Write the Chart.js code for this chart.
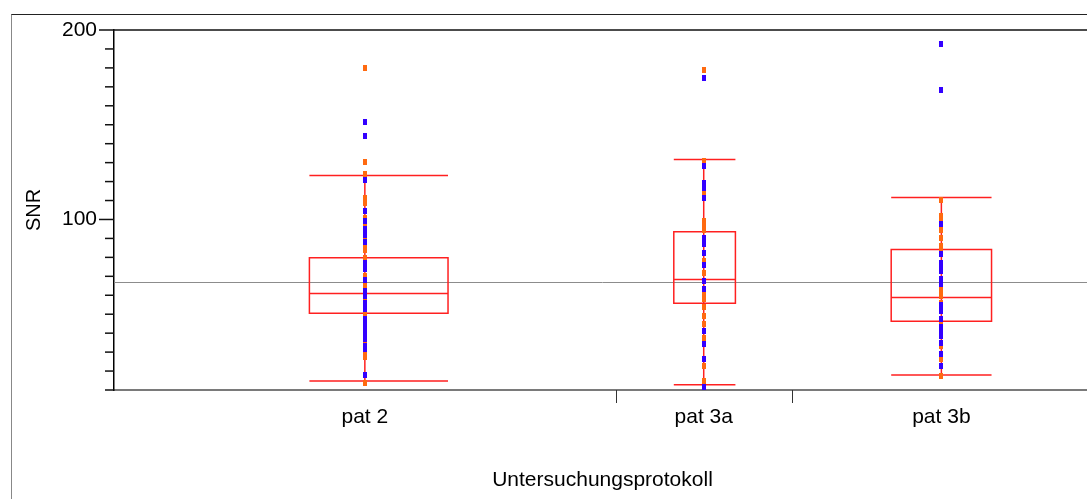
<!DOCTYPE html>
<html>
<head>
<meta charset="utf-8">
<script src="https://cdn.jsdelivr.net/npm/chart.js@4.4.1/dist/chart.umd.min.js"></script>
<style>
  html, body { margin: 0; padding: 0; background: #fff; overflow: hidden; }
  #frame { position: absolute; left: 11px; top: 14px; width: 1200px; height: 600px;
           border-top: 1px solid #222; border-left: 1px solid #888; }
  #wrap { position: absolute; left: 0; top: 0; width: 1100px; height: 499px; }
</style>
</head>
<body>
<div id="frame"></div>
<div id="wrap"><canvas id="snrChart" width="1100" height="499"></canvas></div>
<script>
// SNR je Untersuchungsprotokoll: Einzelwerte + Boxplot
const categories = ['pat 2', 'pat 3a', 'pat 3b'];
const groupSizes = [57, 20, 34];   // Spaltenbreite proportional zu n

const pat2Blue   = [151.6, 143.8, 120.7, 104.4, 99.1, 95, 91.6, 88, 77.2, 73.7, 68, 62, 59.6, 56.1, 53, 47.7, 44.7, 42.1, 40, 39.5, 36.8, 33, 31.6, 17.9];
const pat2Orange = [180, 143.8, 130.5, 124.2, 111.4, 108.8, 101, 96.5, 93, 89.5, 86, 83.8, 79.8, 75, 70.2, 65.3, 63.2, 58, 53.5, 50.5, 45, 35.1, 29.8, 27.2, 13.7];
const pat3aBlue   = [174.7, 128, 119.3, 116.7, 111.4, 90, 86.8, 82.5, 76, 67.5, 63.2, 41.2, 34.2, 26.3, 11.4];
const pat3aOrange = [179, 130.7, 113.2, 99.1, 98.2, 96.5, 94.7, 88, 78, 72, 61, 57.9, 54, 49.1, 45, 37.7, 22.8, 14.9];
const pat3bBlue   = [192.6, 168.4, 97.4, 81.6, 77.2, 75, 72.8, 68.4, 66, 55, 51.7, 47.4, 43, 40, 38.6, 35, 28.9, 22.8];
const pat3bOrange = [110.5, 101.7, 99, 94.7, 90.4, 86, 84, 64, 62, 59.6, 56.1, 46.5, 33.3, 26.3, 17.5];

const boxQ1     = [50.5, 55.8, 46.3];
const boxMedian = [60.9, 68.3, 58.8];
const boxQ3     = [79.8, 93.5, 84.1];
const whiskerLo = [14.7, 12.8, 17.9];
const whiskerHi = [123.2, 131.6, 111.6];
const grandMean = 67.2;

const yTicks = [100, 200];

// Spaltengrenzen und -mitten auf der x-Achse
const bounds = [0];
groupSizes.forEach(n => bounds.push(bounds[bounds.length - 1] + n));
const centers = groupSizes.map((n, i) => bounds[i] + n / 2);
const total = bounds[bounds.length - 1];

// Boxbreite relativ zur Spaltenmitte
const boxSpan = [[-6.3, 9.45], [-3.4, 3.6], [-5.7, 5.7]];

function makeDot(color) {
  const c = document.createElement('canvas');
  c.width = 4; c.height = 6;
  const g = c.getContext('2d');
  g.fillStyle = color;
  g.fillRect(0, 0, 4, 6);
  return c;
}
const blueDot = makeDot('#3300ff');
const orangeDot = makeDot('#ff6a10');

const toPoints = (vals, i) => vals.map(v => ({ x: centers[i], y: v }));

const boxPlugin = {
  id: 'boxes',
  beforeDatasetsDraw(chart) {
    const { ctx, chartArea: a, scales: { x, y } } = chart;
    ctx.save();
    ctx.strokeStyle = '#8c8c8c';
    ctx.lineWidth = 1;
    const ym = Math.round(y.getPixelForValue(grandMean)) + 0.5;
    ctx.beginPath(); ctx.moveTo(a.left, ym); ctx.lineTo(a.right, ym); ctx.stroke();

    ctx.strokeStyle = '#ff2020';
    ctx.lineWidth = 1.5;
    categories.forEach((c, i) => {
      const cx = x.getPixelForValue(centers[i]);
      const x0 = x.getPixelForValue(centers[i] + boxSpan[i][0]);
      const x1 = x.getPixelForValue(centers[i] + boxSpan[i][1]);
      const yq1 = y.getPixelForValue(boxQ1[i]);
      const yq3 = y.getPixelForValue(boxQ3[i]);
      const ymd = y.getPixelForValue(boxMedian[i]);
      const ylo = y.getPixelForValue(whiskerLo[i]);
      const yhi = y.getPixelForValue(whiskerHi[i]);
      ctx.beginPath();
      ctx.rect(x0, yq3, x1 - x0, yq1 - yq3);
      ctx.moveTo(x0, ymd); ctx.lineTo(x1, ymd);
      ctx.moveTo(x0, ylo); ctx.lineTo(x1, ylo);
      ctx.moveTo(x0, yhi); ctx.lineTo(x1, yhi);
      ctx.moveTo(cx, yhi); ctx.lineTo(cx, ylo);
      ctx.stroke();
    });
    ctx.restore();
  },
  afterDraw(chart) {
    const { ctx, chartArea: a, scales: { x, y } } = chart;
    ctx.save();
    // Rahmenlinie oben
    ctx.strokeStyle = '#111';
    ctx.lineWidth = 1.5;
    ctx.beginPath(); ctx.moveTo(a.left, a.top); ctx.lineTo(a.right + 20, a.top); ctx.stroke();
    // Teilstriche y
    for (let v = 10; v <= 200; v += 10) {
      const py = y.getPixelForValue(v);
      const len = v % 100 === 0 ? 15 : 9;
      ctx.beginPath(); ctx.moveTo(a.left - len, py); ctx.lineTo(a.left, py); ctx.stroke();
    }
    // Teilstriche x an den Spaltengrenzen
    ctx.strokeStyle = '#333';
    ctx.lineWidth = 1;
    bounds.slice(1, -1).forEach(b => {
      const px = Math.round(x.getPixelForValue(b)) + 0.5;
      ctx.beginPath(); ctx.moveTo(px, a.bottom); ctx.lineTo(px, a.bottom + 13); ctx.stroke();
    });
    ctx.restore();
  }
};

Chart.defaults.font.family = '"Liberation Sans", Arial, sans-serif';
Chart.defaults.color = '#000';

const datasets = [];
[[pat2Blue, pat2Orange], [pat3aBlue, pat3aOrange], [pat3bBlue, pat3bOrange]].forEach((pair, i) => {
  datasets.push({ label: categories[i] + ' blau', data: toPoints(pair[0], i), pointStyle: blueDot });
  datasets.push({ label: categories[i] + ' orange', data: toPoints(pair[1], i), pointStyle: orangeDot });
});

new Chart(document.getElementById('snrChart'), {
  type: 'scatter',
  data: { datasets },
  options: {
    responsive: false,
    animation: false,
    events: [],
    layout: { padding: { top: 30, right: 9, left: 0, bottom: 0 } },
    plugins: { legend: { display: false }, tooltip: { enabled: false } },
    scales: {
      x: {
        type: 'linear',
        min: 0,
        max: total,
        afterFit: s => { s.height = 109; },
        afterBuildTicks: s => { s.ticks = centers.map(v => ({ value: v })); },
        ticks: {
          callback: (v, i) => categories[i],
          font: { size: 21 },
          padding: 15,
          autoSkip: false,
          maxRotation: 0
        },
        grid: { display: true, drawOnChartArea: false, drawTicks: false },
        border: { color: '#7a7a7a', width: 2 },
        title: {
          display: true,
          text: 'Untersuchungsprotokoll',
          font: { size: 21 },
          padding: { top: 0, bottom: 6 }
        }
      },
      y: {
        min: 10,
        max: 200,
        afterFit: s => { s.width = 114; },
        afterBuildTicks: s => { s.ticks = yTicks.map(v => ({ value: v })); },
        ticks: { font: { size: 21 }, padding: 17, autoSkip: false },
        grid: { display: true, drawOnChartArea: false, drawTicks: false },
        border: { color: '#000', width: 1.5 },
        title: {
          display: true,
          text: 'SNR',
          font: { size: 20 },
          padding: { top: 22, bottom: 0 }
        }
      }
    }
  },
  plugins: [boxPlugin]
});
</script>
</body>
</html>
